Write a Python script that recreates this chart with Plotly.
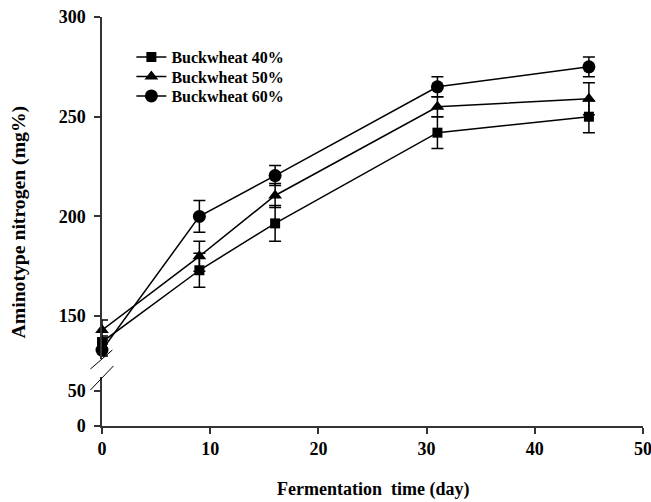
import plotly.graph_objects as go

days = [0, 9, 16, 31, 45]
bw40 = [137, 173, 196.5, 242, 250]
bw40_err = [3, 8.5, 9, 8, 8]
bw50 = [143, 180, 210.5, 255, 259]
bw50_err = [5, 7.5, 6, 5, 8]
bw60 = [133, 200, 220.5, 265, 275]
bw60_err = [3, 8, 5, 5, 5]
names = ["Buckwheat 40%", "Buckwheat 50%", "Buckwheat 60%"]
symbols = ["square", "triangle-up", "circle"]
sizes = [10, 12, 13]

FONT = "Liberation Serif"
W, H = 651, 502
L, R, T, B = 101.6, 8, 17, 76
pw = W - L - R
ph = H - T - B

def py(y):  # pixel y -> paper
    return (H - B - y) / ph

def px(x):
    return (x - L) / pw

upper_bottom = py(359)
lower_top = py(377)

fig = go.Figure()
legends = ["legend", "legend2", "legend3"]
for vals, errs, nm, sym, sz, lg in zip([bw40, bw50, bw60], [bw40_err, bw50_err, bw60_err],
                                       names, symbols, sizes, legends):
    fig.add_trace(go.Scatter(
        x=days, y=vals, name=nm, mode="lines+markers",
        line=dict(color="black", width=1.5),
        marker=dict(symbol=sym, size=sz, color="black"),
        error_y=dict(type="data", array=errs, visible=True, color="black", thickness=1.5, width=6),
        xaxis="x", yaxis="y", cliponaxis=False, legend=lg,
    ))
# invisible trace to activate the lower axis segment
fig.add_trace(go.Scatter(x=[None], y=[None], xaxis="x", yaxis="y2", showlegend=False,
                         hoverinfo="skip"))

tickfont = dict(family=FONT, size=18, color="black", weight="bold")
legfont = dict(family=FONT, size=16, color="black", weight="bold")
leg_rows = [57, 76.5, 96]
leg_common = dict(xanchor="left", yanchor="middle", font=legfont,
                  bgcolor="rgba(0,0,0,0)", itemwidth=30)
axis_common = dict(showline=True, linecolor="#333", linewidth=1.5, ticks="outside", ticklen=6,
                   tickcolor="#333", tickwidth=1.5, showgrid=False, zeroline=False,
                   tickfont=tickfont, ticklabeloverflow="allow", automargin=False)
fig.update_layout(
    width=W, height=H,
    margin=dict(l=L, r=R, t=T, b=B, autoexpand=False),
    plot_bgcolor="white", paper_bgcolor="white",
    showlegend=True,
    legend=dict(x=px(131), y=py(leg_rows[0]), **leg_common),
    legend2=dict(x=px(131), y=py(leg_rows[1]), **leg_common),
    legend3=dict(x=px(131), y=py(leg_rows[2]), **leg_common),
    xaxis=dict(range=[0, 50], tickvals=[0, 10, 20, 30, 40, 50], anchor="y2", **axis_common),
    yaxis=dict(domain=[upper_bottom, 1], range=[128.5, 300], tickvals=[150, 200, 250, 300],
               anchor="x", ticklabelstandoff=5, **axis_common),
    yaxis2=dict(domain=[0, lower_top], range=[0, 69.4], tickvals=[0, 50],
                anchor="x", ticklabelstandoff=5, **axis_common),
)

# break marks
fig.add_shape(type="line", xref="paper", yref="paper", x0=px(90), y0=py(369), x1=px(112), y1=py(350),
              line=dict(color="black", width=1))
fig.add_shape(type="line", xref="paper", yref="paper", x0=px(90), y0=py(390), x1=px(113), y1=py(366),
              line=dict(color="black", width=1))

fig.add_annotation(text="Aminotype nitrogen (mg%)", xref="paper", yref="paper",
                   x=px(19), y=py(222), xanchor="center", yanchor="middle",
                   textangle=-90, showarrow=False,
                   font=dict(family=FONT, size=19.7, color="black", weight="bold"))
fig.add_annotation(text="Fermentation  time (day)", xref="paper", yref="paper",
                   x=px(372.5), y=py(489), xanchor="center", yanchor="middle", showarrow=False,
                   font=dict(family=FONT, size=18, color="black", weight="bold"))

fig.write_html("out.html")
